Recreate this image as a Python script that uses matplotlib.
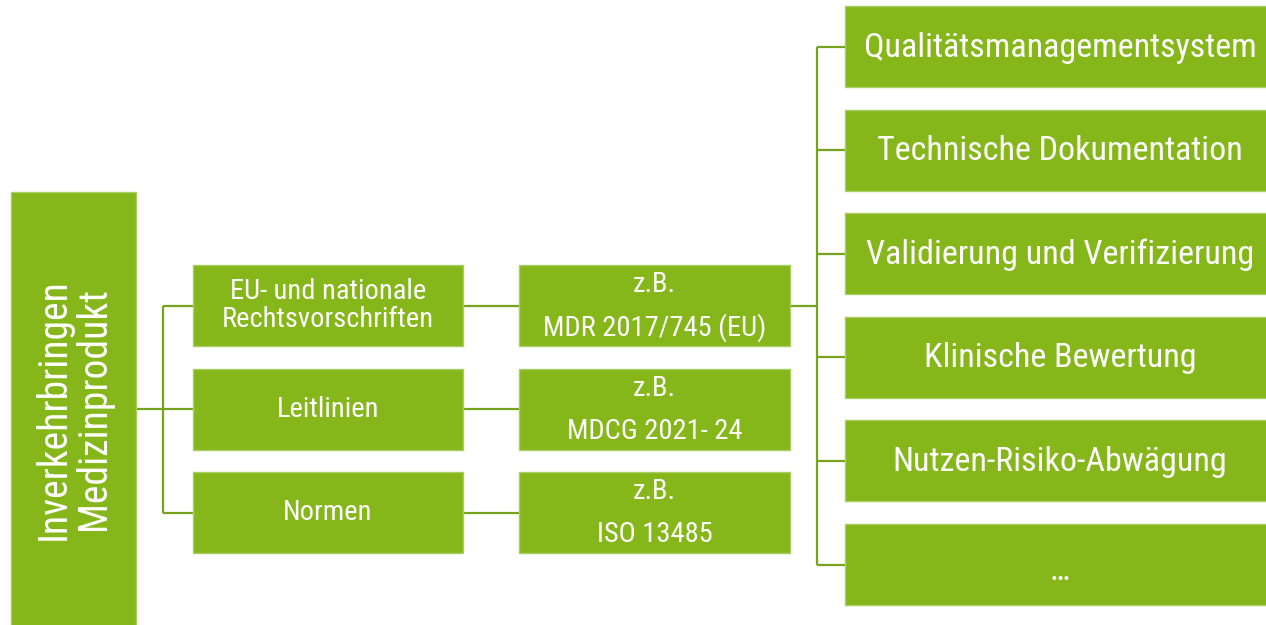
import matplotlib
matplotlib.use("Agg")
import matplotlib.pyplot as plt
from matplotlib.patches import Rectangle

# ---- content ----
root_lines = ["Inverkehrbringen", "Medizinprodukt"]
source_labels = ["EU- und nationale\nRechtsvorschriften", "Leitlinien", "Normen"]
example_prefix = ["z.B.", "z.B.", "z.B."]
example_labels = ["MDR 2017/745 (EU)", "MDCG 2021- 24", "ISO 13485"]
requirement_labels = ["Qualitätsmanagementsystem", "Technische Dokumentation",
                      "Validierung und Verifizierung", "Klinische Bewertung",
                      "Nutzen-Risiko-Abwägung", "…"]

# ---- style / layout ----
W, H = 1266, 625
FILL = "#85B71B"
EDGE = "#A9CD62"
LINE = "#76A31C"
FONT = ["Roboto Condensed", "Liberation Sans", "DejaVu Sans"]

fig = plt.figure(figsize=(W / 100, H / 100), dpi=100)
ax = fig.add_axes([0, 0, 1, 1])
ax.set_xlim(0, W)
ax.set_ylim(H, 0)
ax.axis("off")

def box(x0, y0, w, h):
    ax.add_patch(Rectangle((x0, y0), w, h, facecolor=FILL, edgecolor=EDGE, lw=1.0, zorder=2))

def line(xs, ys):
    ax.plot(xs, ys, color=LINE, lw=1.6, solid_capstyle="butt", zorder=1)

pitch = 103.6
bh = 81

# root box
root_x0, root_x1, root_y0 = 11, 136, 192
box(root_x0, root_y0, root_x1 - root_x0, H - root_y0 + 5)
root_cy = 409
ax.text((root_x0 + root_x1) / 2, root_cy, "\n".join(root_lines), rotation=90,
        ha="center", va="center", color="white", fontsize=28.5, family=FONT,
        linespacing=1.02, zorder=3)

# middle columns
c1_x0, c1_x1 = 193, 463
c2_x0, c2_x1 = 519, 790
mid_top0 = 265
mid_centers = []
for i, (src, pre, ex) in enumerate(zip(source_labels, example_prefix, example_labels)):
    top = mid_top0 + i * pitch
    cy = top + bh / 2
    mid_centers.append(cy)
    box(c1_x0, top, c1_x1 - c1_x0, bh)
    box(c2_x0, top, c2_x1 - c2_x0, bh)
    ax.text((c1_x0 + c1_x1) / 2, cy, src, ha="center", va="center", color="white",
            fontsize=20.5, family=FONT, linespacing=1.08, zorder=3)
    c2x = (c2_x0 + c2_x1) / 2
    ax.text(c2x, cy - 21, pre, ha="center", va="center", color="white",
            fontsize=20.5, family=FONT, zorder=3)
    ax.text(c2x, cy + 22, ex, ha="center", va="center", color="white",
            fontsize=20.5, family=FONT, zorder=3)
    line([c1_x1, c2_x0], [cy, cy])

# connector root -> sources
trunk_x = 163
line([root_x1, trunk_x], [root_cy, root_cy])
line([trunk_x, trunk_x], [mid_centers[0], mid_centers[-1]])
for cy in mid_centers:
    line([trunk_x, c1_x0], [cy, cy])

# right column
r_x0, r_x1 = 845, W + 2
r_top0 = 6
req_centers = []
for i, lab in enumerate(requirement_labels):
    top = r_top0 + i * pitch
    cy = top + bh / 2
    req_centers.append(cy)
    box(r_x0, top, r_x1 - r_x0, bh)
    dy = 6 if lab == "…" else 1
    ax.text(1060, cy + dy, lab, ha="center", va="center", color="white",
            fontsize=24.5, family=FONT, zorder=3)

trunk2_x = 817
line([c2_x1, trunk2_x], [mid_centers[0], mid_centers[0]])
line([trunk2_x, trunk2_x], [req_centers[0], req_centers[-1]])
for cy in req_centers:
    line([trunk2_x, r_x0], [cy, cy])

fig.savefig("out.png", dpi=100)
